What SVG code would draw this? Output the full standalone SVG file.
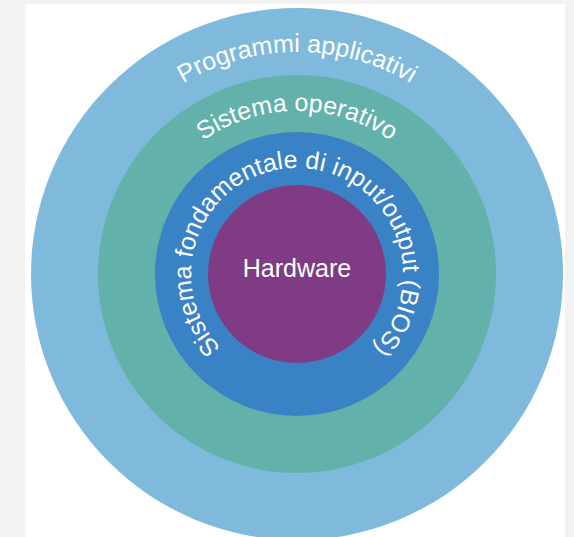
<svg xmlns="http://www.w3.org/2000/svg" width="574" height="537" viewBox="0 0 574 537">
<style>
.lbl{font-family:"Liberation Sans",Arial,Helvetica,sans-serif;fill:#ffffff;font-size:25px}
</style>
<defs>
<path id="p1" d="M297 496 A222 222 0 1 1 297 52 A222 222 0 1 1 297 496"/>
<path id="p2" d="M297 437 A163 163 0 1 1 297 111 A163 163 0 1 1 297 437"/>
<path id="p3" d="M297 380 A106 106 0 1 1 297 168 A106 106 0 1 1 297 380"/>
</defs>
<rect x="0" y="0" width="574" height="537" fill="#f2f2f2"/>
<rect x="25" y="4" width="540" height="533" fill="#ffffff"/>
<g id="programmi">
<circle cx="297" cy="274" r="266" fill="#7fbadc"/>
<text class="lbl" text-anchor="middle"><textPath href="#p1" startOffset="50%">Programmi applicativi</textPath></text>
</g>
<g id="sistema-operativo">
<circle cx="297" cy="274" r="199" fill="#62b1ab"/>
<text class="lbl" text-anchor="middle"><textPath href="#p2" startOffset="50%">Sistema operativo</textPath></text>
</g>
<g id="bios">
<circle cx="297" cy="274" r="142" fill="#3a82c6"/>
<text class="lbl" text-anchor="middle"><textPath href="#p3" startOffset="50%">Sistema fondamentale di input/output (BIOS)</textPath></text>
</g>
<g id="hardware">
<circle cx="297" cy="274" r="89" fill="#803b85"/>
<text class="lbl" x="297" y="277" text-anchor="middle">Hardware</text>
</g>
<g id="connectors"/>
</svg>
